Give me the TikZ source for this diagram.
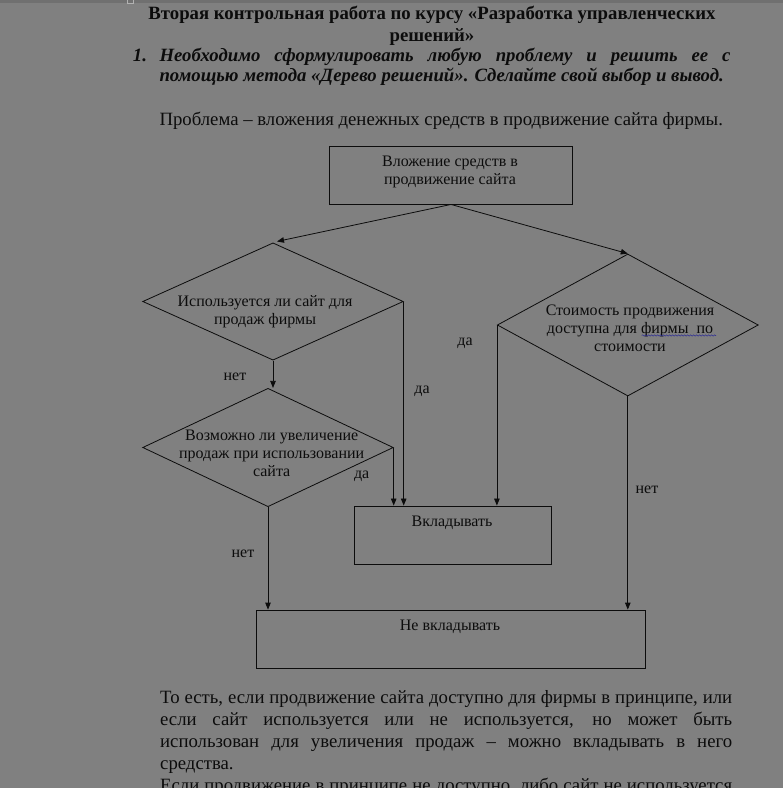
\documentclass[tikz,border=0pt]{standalone}
\usepackage{fontspec}
\setmainfont{Liberation Serif}
\usetikzlibrary{arrows.meta,shapes.geometric,decorations.pathmorphing,calc}
\definecolor{bg}{RGB}{128,128,128}
\definecolor{bgdark}{RGB}{112,112,112}
\definecolor{ink}{RGB}{12,12,12}
\definecolor{spell}{RGB}{40,40,150}
\begin{document}
\begin{tikzpicture}[x=1pt,y=-1pt,
  box/.style={draw=ink, line width=0.9pt, rectangle, inner sep=0pt},
  dia/.style={draw=ink, line width=0.8pt, diamond, inner sep=0pt},
  txt/.style={text=ink, font=\fontsize{16}{18}\selectfont, align=center, inner sep=0pt, anchor=base},
  lbl/.style={text=ink, font=\fontsize{16}{18}\selectfont, inner sep=0pt},
  body/.style={text=ink, font=\fontsize{18.75}{22}\selectfont, inner sep=0pt, anchor=base west},
  arr/.style={draw=ink, line width=0.8pt, -{Triangle[length=7pt,width=5.5pt]}},
]
\useasboundingbox (0,0) rectangle (783,788);
\clip (0,0) rectangle (783,788);
\fill[bg] (0,0) rectangle (783,788);
\fill[bgdark] (0,0) rectangle (783,3);
\draw[gray!60, line width=0.5pt] (127,-1) rectangle (133,3);

% header text
\node[body, anchor=base] (h1) at (432,19) {\bfseries Вторая контрольная работа по курсу «Разработка управленческих};
\node[body, anchor=base] (h2) at (432,41.7) {\bfseries решений»};
\node[body] (n1) at (132.7,61) {\bfseries\itshape 1.};
\node[body] (i1) at (159.3,61) {\bfseries\itshape\makebox[571pt][s]{Необходимо сформулировать любую проблему и решить ее с}};
\node[body] (i2) at (159.3,81.7) {\bfseries\itshape помощью метода «Дерево решений». Сделайте свой выбор и вывод.};
\node[body] (pr) at (159.3,125) {Проблема – вложения денежных средств в продвижение сайта фирмы.};

% diagram shapes
\node[box, minimum width=243.4pt, minimum height=58pt] (top) at (451,175) {};
\node[dia, minimum width=260.6pt, minimum height=117.3pt] (d1) at (273,301.5) {};
\node[dia, minimum width=250.6pt, minimum height=118.4pt] (d2) at (268,447.5) {};
\node[dia, minimum width=261pt, minimum height=142pt] (d3) at (627.8,325) {};
\node[box, minimum width=197.4pt, minimum height=58pt] (vk) at (453,535) {};
\node[box, minimum width=389pt, minimum height=58.3pt] (nv) at (451.2,639.2) {};

% texts in shapes (anchor base = last line's baseline)
\node[txt] (topT) at (450,184.7) {Вложение средств в\\продвижение сайта};
\node[txt] (d1T) at (265,324.7) {Используется ли сайт для\\продаж фирмы};
\node[txt] (d2T) at (271.7,476) {Возможно ли увеличение\\продаж при использовании\\сайта};
\node[txt] (d3T) at (630,351) {Стоимость продвижения\\доступна для фирмы\ \ по\\стоимости};
\node[txt] (vkT) at (452,526.7) {Вкладывать};
\node[txt] (nvT) at (450,630) {Не вкладывать};
\draw[spell, line width=0.5pt, decorate, decoration={snake, amplitude=0.7pt, segment length=3pt}] (641.7,335.5) -- (716,335.5);

% connectors
\draw[arr] (top.south) -- ($(d1.north)+(4,-1)$);
\draw[arr] (top.south) -- (d3.north);
\draw[arr] (d1.south) -- (d1.south |- d2.north);
\draw[arr] (d1.east) -- (d1.east |- vk.north);
\draw[arr] (d2.east) -- (d2.east |- vk.north);
\draw[arr] (d3.west) -- (d3.west |- vk.north);
\draw[arr] (d3.south) -- (d3.south |- nv.north);
\draw[arr] (d2.south) -- (d2.south |- nv.north);

% labels
\node[lbl] (l1) at (235,376.5) {нет};
\node[lbl] (l2) at (422,391) {да};
\node[lbl] (l3) at (361.7,476) {да};
\node[lbl] (l4) at (465,343) {да};
\node[lbl] (l5) at (647,490) {нет};
\node[lbl] (l6) at (243,554) {нет};

% bottom paragraph
\node[body] (p1) at (160,703.3) {\makebox[572pt][s]{То есть, если продвижение сайта доступно для фирмы в принципе, или}};
\node[body] (p2) at (160,725.5) {\makebox[572pt][s]{если сайт используется или не используется, но может быть}};
\node[body] (p3) at (160,747.7) {\makebox[572pt][s]{использован для увеличения продаж – можно вкладывать в него}};
\node[body] (p4) at (160,769.5) {средства.};
\node[body] (p5) at (160,791.5) {\makebox[572pt][s]{Если продвижение в принципе не доступно, либо сайт не используется}};
\end{tikzpicture}
\end{document}
